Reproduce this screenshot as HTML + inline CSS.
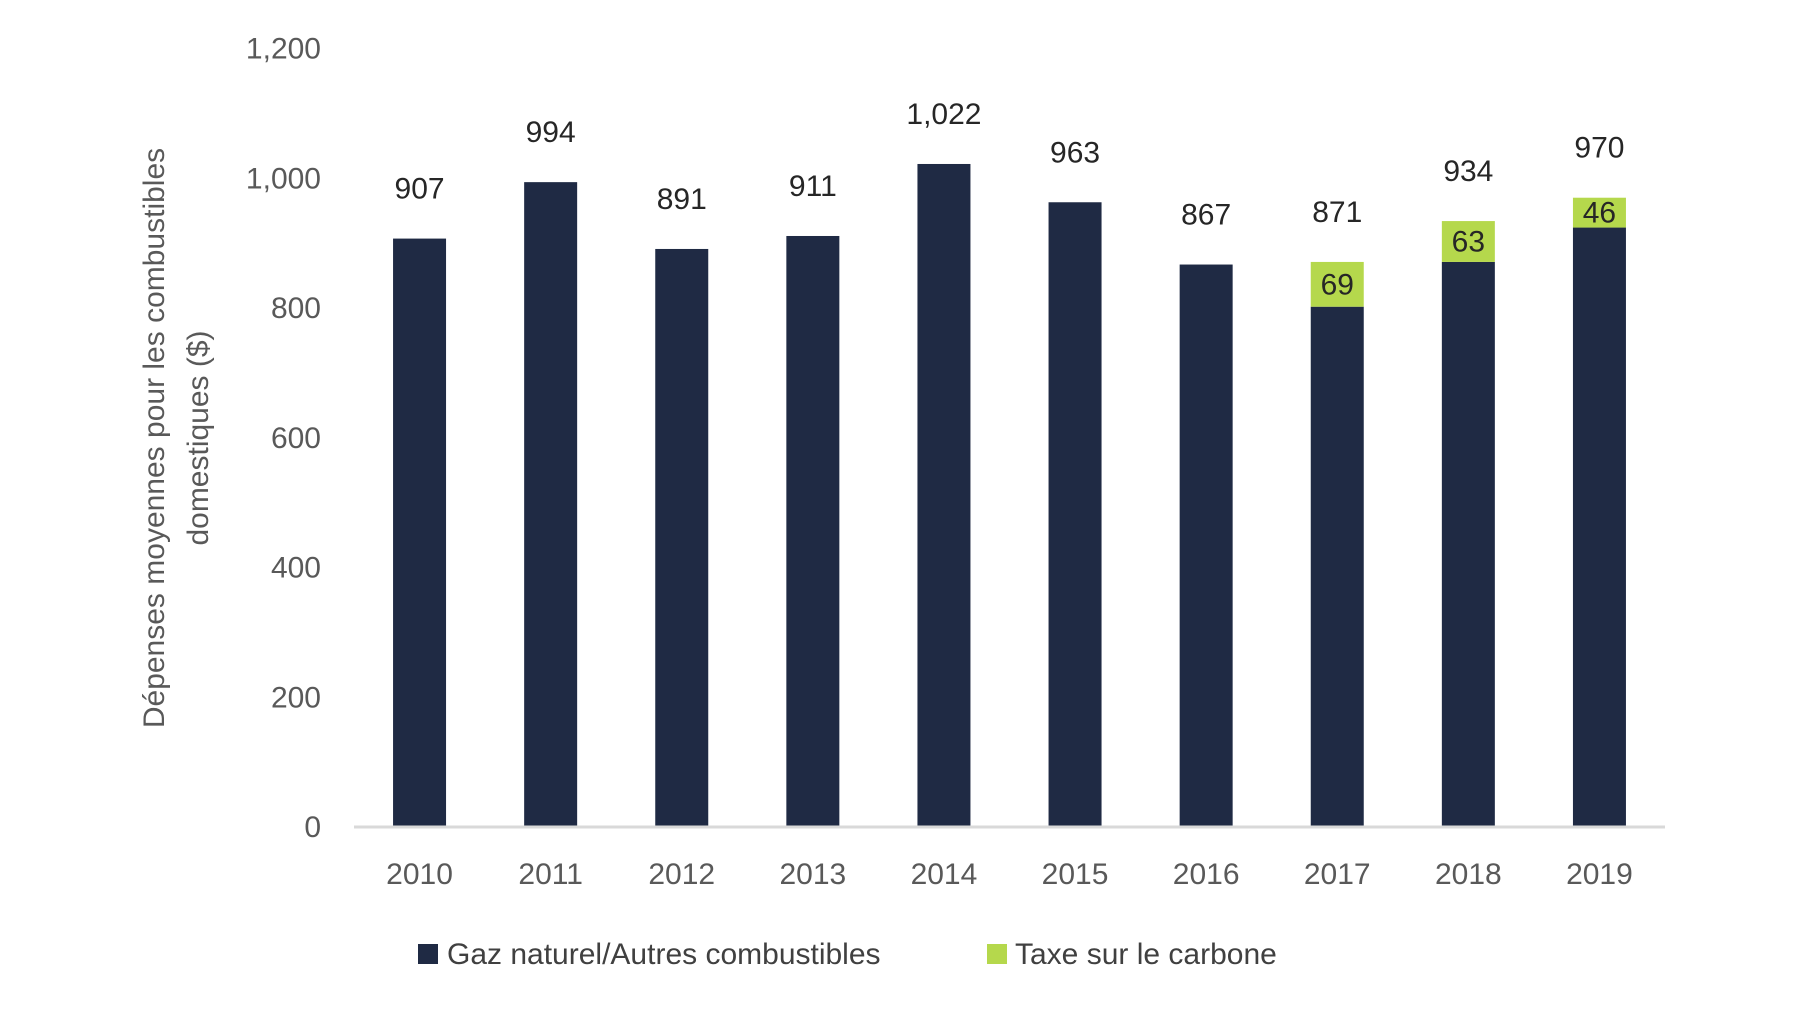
<!DOCTYPE html>
<html><head><meta charset="utf-8"><style>
html,body{margin:0;padding:0;background:#fff;}
svg{display:block;font-family:"Liberation Sans",sans-serif;}
</style></head><body>
<svg id="chart" width="1800" height="1028" viewBox="0 0 1800 1028" xmlns="http://www.w3.org/2000/svg">
<g id="yticks"></g>
<g id="bars"></g>
<g id="xlabels"></g>
<line x1="354" x2="1665" y1="827" y2="827" stroke="#d9d9d9" stroke-width="3"/>
<text transform="translate(164,438) rotate(-90)" text-anchor="middle" font-size="30" fill="#595959"><tspan x="0" dy="0">Dépenses moyennes pour les combustibles</tspan><tspan x="0" dy="44">domestiques ($)</tspan></text>
<g>
<rect x="418" y="944" width="20" height="20" fill="#1f2a44"/>
<text x="447" y="964" font-size="30" fill="#404040">Gaz naturel/Autres combustibles</text>
<rect x="987" y="944" width="20" height="20" fill="#b5d84c"/>
<text x="1015" y="964" font-size="30" fill="#404040">Taxe sur le carbone</text>
</g>
</svg>
<script>
const categories=["2010","2011","2012","2013","2014","2015","2016","2017","2018","2019"];
const gasValues=[907,994,891,911,1022,963,867,802,871,924];
const taxValues=[0,0,0,0,0,0,0,69,63,46];
const totalLabels=["907","994","891","911","1,022","963","867","871","934","970"];
const yTicks=[0,200,400,600,800,1000,1200];
const yTickLabels=["0","200","400","600","800","1,000","1,200"];
const NS="http://www.w3.org/2000/svg";
const y0=827,yTop=48.5,vMax=1200;
function y(v){return y0-(y0-yTop)*v/vMax;}
const xStart=354,step=131.1;
function x(i){return xStart+step*(i+0.5);}
const bw=53;
function mk(tag,attrs,parent,txt){const e=document.createElementNS(NS,tag);for(const k in attrs)e.setAttribute(k,attrs[k]);if(txt!==undefined)e.textContent=txt;parent.appendChild(e);return e;}
const yg=document.getElementById('yticks');
yTicks.forEach((v,i)=>{
 const t=mk('text',{x:321,y:y(v)+10,'text-anchor':'end','font-size':30,fill:'#595959'},yg,yTickLabels[i]);
 
 
});
const bg=document.getElementById('bars'),xg=document.getElementById('xlabels');
categories.forEach((c,i)=>{
 const cx=x(i);
 const g=gasValues[i],tx=taxValues[i];
 const r=mk('rect',{x:cx-bw/2,y:y(g),width:bw,height:y0-y(g),fill:'#1f2a44'},bg);
 
 
 if(tx>0){
  const r2=mk('rect',{x:cx-bw/2,y:y(g+tx),width:bw,height:y(g)-y(g+tx),fill:'#b5d84c'},bg);
  
  
  const tl=mk('text',{x:cx,y:(y(g)+y(g+tx))/2+10,'text-anchor':'middle','font-size':30,fill:'#262626'},bg,String(tx));
  
  
 }
 const vl=mk('text',{x:cx,y:y(g+tx)-40,'text-anchor':'middle','font-size':30,fill:'#262626'},bg,totalLabels[i]);
 
 
 const xl=mk('text',{x:cx,y:884,'text-anchor':'middle','font-size':30,fill:'#595959'},xg,c);
 
 
});
</script>
</body></html>
